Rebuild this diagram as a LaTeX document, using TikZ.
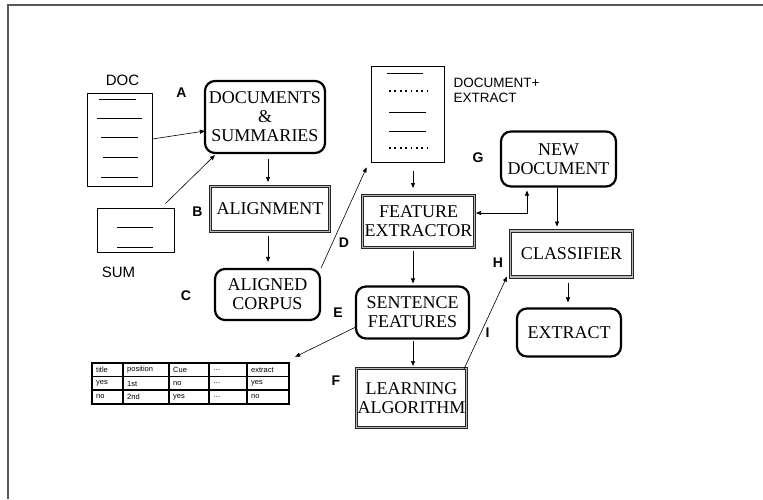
\documentclass[tikz,border=0pt]{standalone}
\usepackage{fontspec}
\setmainfont{Liberation Serif}
\newfontfamily\lsans{Liberation Sans}
\usetikzlibrary{arrows.meta,calc}
\begin{document}
\begin{tikzpicture}[x=1pt,y=-1pt,
  arr/.style={-{Triangle[length=5pt,width=4pt]}, line width=0.6pt},
  darr/.style={{Triangle[length=5pt,width=4pt]}-{Triangle[length=5pt,width=4pt]}, line width=0.6pt},
  rbox/.style={draw, line width=2.2pt, rounded corners=10pt, align=center, inner sep=0pt, font=\fontsize{18}{19}\selectfont},
  dbox/.style={draw=black!85, double=gray!55, double distance=1.4pt, line width=1pt, align=center, inner sep=0pt, font=\fontsize{18}{19}\selectfont},
  lbl/.style={font=\lsans\bfseries\fontsize{14}{14}\selectfont},
  capt/.style={font=\lsans\fontsize{15}{15}\selectfont},
  small/.style={font=\lsans\fontsize{13.5}{15}\selectfont, align=left, anchor=west},
  page/.style={draw, line width=0.8pt, inner sep=0pt},
  pl/.style={line width=0.8pt},
  dl/.style={line width=1.8pt, dash pattern=on 1.8pt off 3.6pt},
  cell/.style={font=\lsans\fontsize{7.5}{8}\selectfont, anchor=west, inner sep=0pt},
]
\useasboundingbox (0,0) rectangle (763,499);
% frame
\draw[black!65, line width=1.5pt] (8,499) -- (8,5) -- (763,5);

% pages
\node[page, minimum width=65pt, minimum height=93pt] (doc) at (119.5,139.5) {};
\draw[pl] (99,99) -- (136,99);
\draw[pl] (97,118) -- (142,118);
\draw[pl] (101,137) -- (138,137);
\draw[pl] (103,157) -- (138,157);
\draw[pl] (101,177) -- (138,177);
\node[capt] (doclbl) at (122.5,80) {DOC};

\node[page, minimum width=77pt, minimum height=44pt] (sum) at (135.5,230) {};
\draw[pl] (117,227) -- (153,227);
\draw[pl] (117,247) -- (153,247);
\node[capt] (sumlbl) at (118.5,272) {SUM};

\node[page, minimum width=73pt, minimum height=96pt] (doc2) at (407.5,114) {};
\draw[pl] (387,73) -- (423,73);
\draw[dl] (389,91) -- (427,91);
\draw[pl] (389,112) -- (426,112);
\draw[pl] (389,131) -- (426,131);
\draw[dl] (389,148) -- (427,148);
\node[small] (d2lbl) at (450,90) {DOCUMENT+\\EXTRACT};

% boxes
\node[rbox, minimum width=120pt, minimum height=72pt] (A) at (265,117) {DOCUMENTS\\\&\\SUMMARIES};
\node[dbox, minimum width=119pt, minimum height=45pt] (B) at (270,209) {ALIGNMENT};
\node[rbox, minimum width=105pt, minimum height=51pt] (C) at (267.5,294.5) {ALIGNED\\CORPUS};
\node[dbox, minimum width=112pt, minimum height=52pt] (FE) at (418.5,221.5) {FEATURE\\EXTRACTOR};
\node[rbox, minimum width=115pt, minimum height=55pt] (ND) at (558.5,159) {NEW\\DOCUMENT};
\node[dbox, minimum width=122pt, minimum height=46pt] (CL) at (571.5,254) {CLASSIFIER};
\node[rbox, minimum width=104pt, minimum height=48pt] (EX) at (569,332.5) {EXTRACT};
\node[rbox, minimum width=113pt, minimum height=52pt] (SF) at (412.5,312.5) {SENTENCE\\FEATURES};
\node[dbox, minimum width=110pt, minimum height=59pt] (LA) at (411.5,398) {LEARNING\\ALGORITHM};

% letters
\node[lbl] (la) at (181.5,93) {A};
\node[lbl] (lb) at (197.5,212) {B};
\node[lbl] (lc) at (186,296) {C};
\node[lbl] (ld) at (344,243) {D};
\node[lbl] (le) at (338,313) {E};
\node[lbl] (lf) at (336,381) {F};
\node[lbl] (lg) at (478,158) {G};
\node[lbl] (lh) at (498,263) {H};
\node[lbl] (li) at (487.5,333) {I};

% table
\node[inner sep=0pt, minimum width=197pt, minimum height=41pt] (tab) at (190.5,383.5) {};
\draw[line width=1.2pt] (92,363) rectangle (289,404);
\foreach \y in {376.5,390} \draw[line width=1.2pt] (92,\y) -- (289,\y);
\foreach \x in {123,169,209,247} \draw[line width=1.2pt] (\x,363) -- (\x,404);
\foreach \x/\a/\b/\c in {96/title/yes/no, 127/position/1st/2nd, 173/Cue/no/yes, 213/…/…/…, 251/extract/yes/no}{
  \node[cell] at (\x,370) {\a};
  \node[cell] at (\x,383.5) {\b};
  \node[cell] at (\x,397) {\c};
}

% connectors
\draw[arr] ([yshift=0.5pt]doc.east) -- ([xshift=1pt,yshift=-14pt]A.west);
\draw[arr] ([xshift=-9pt,yshift=4pt]sum.north east) -- ([xshift=11pt,yshift=-1pt]A.south west);
\draw[arr] ([xshift=3pt,yshift=-5pt]A.south) -- ([xshift=-2pt,yshift=4pt]B.north);
\draw[arr] ([xshift=-2pt,yshift=-4pt]B.south) -- ([xshift=0.5pt,yshift=6pt]C.north);
\draw[arr] (C.north east) -- ([xshift=-4pt,yshift=-5pt]doc2.south west);
\draw[arr] ([xshift=5.5pt,yshift=-9pt]doc2.south) -- ([xshift=-5.5pt,yshift=7pt]FE.north);
\draw[arr] ([xshift=-5.5pt,yshift=-3pt]FE.south) -- ([xshift=0.5pt,yshift=2pt]SF.north);
\draw[arr] ([xshift=0.5pt,yshift=-1pt]SF.south) -- ([xshift=1.5pt,yshift=2pt]LA.north);
\draw[arr] ([xshift=1pt,yshift=-14.5pt]SF.west) -- ([xshift=6pt,yshift=6pt]tab.north east);
\draw[arr] ([xshift=-3pt,yshift=-1pt]LA.north east) -- ([xshift=-3pt,yshift=1pt]CL.south west);
\draw[darr] ([xshift=1pt,yshift=8.5pt]FE.east) -| ([xshift=-31.5pt,yshift=-3pt]ND.south);
\draw[arr] ([xshift=-1.5pt]ND.south) -- ([xshift=-14.5pt,yshift=4pt]CL.north);
\draw[arr] ([xshift=-3.5pt,yshift=-5pt]CL.south) -- ([xshift=-1pt,yshift=5pt]EX.north);
\end{tikzpicture}
\end{document}
